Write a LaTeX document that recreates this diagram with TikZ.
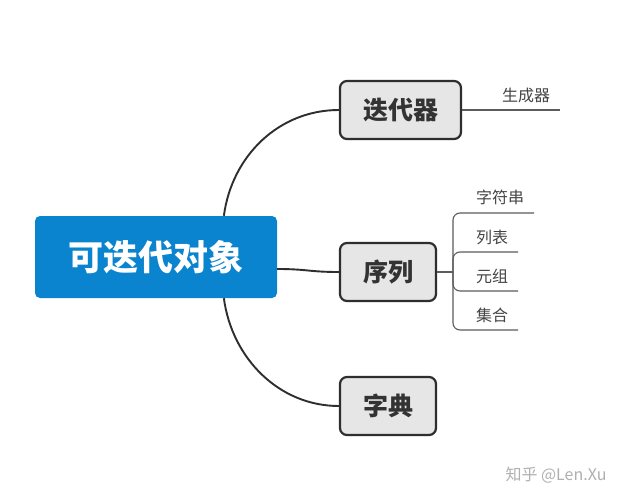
\documentclass[tikz,border=0pt]{standalone}
\usepackage{fontspec}
\newfontfamily\cjk{Noto Sans CJK SC}
\usetikzlibrary{calc}
\definecolor{rootblue}{HTML}{0A84CE}
\definecolor{boxgray}{HTML}{E6E6E6}
\definecolor{boxborder}{HTML}{2E2E2E}
\definecolor{textdark}{HTML}{333333}
\definecolor{leaftext}{HTML}{444444}
\definecolor{wm}{HTML}{B0B0B0}
\begin{document}
\begin{tikzpicture}[x=1pt,y=-1pt,
  rootbox/.style={fill=rootblue, rounded corners=5pt, minimum width=242pt, minimum height=82pt,
    inner sep=0pt, text=white, font=\cjk\bfseries\fontsize{35}{40}\selectfont},
  subbox/.style={draw=boxborder, line width=2.2pt, fill=boxgray, rounded corners=7pt,
    minimum height=58pt, inner sep=0pt, text=textdark, font=\cjk\bfseries\fontsize{25}{30}\selectfont},
  leaf/.style={inner sep=0pt, text=leaftext, font=\cjk\fontsize{16}{19}\selectfont},
  conn/.style={draw=boxborder, line width=1.9pt},
  leafline/.style={draw=textdark!80, line width=1.1pt}]
\useasboundingbox (0,0) rectangle (632,500);
\fill[white] (0,0) rectangle (632,500);

\node[rootbox] (root) at (156,257) {可迭代对象};
\node[subbox, minimum width=121pt] (it) at (400.5,110) {迭代器};
\node[subbox, minimum width=96pt] (seq) at (388,272) {序列};
\node[subbox, minimum width=96pt] (dict) at (388,406) {字典};

\draw[conn] ($(root.north west)!0.78!(root.north east)$) .. controls +(8,-60) and +(-60,0) .. (it.west);
\draw[conn] ($(root.south west)!0.78!(root.south east)$) .. controls +(8,60) and +(-60,0) .. (dict.west);
\draw[conn] ($(root.east)+(0,12)$) .. controls +(30,0) and +(-30,0) .. (seq.west);

% iterator child
\node[leaf] (gen) at (526,95) {生成器};
\coordinate (genend) at (560,110);
\draw[leafline] (it.east) -- (genend);

% sequence children
\coordinate (sj) at (453,272);
\draw[leafline] (seq.east) -- (sj);
\node[leaf] (str) at (500,197) {字符串};
\node[leaf] (lst) at (492,237) {列表};
\node[leaf] (tup) at (492,276) {元组};
\node[leaf] (set) at (492,315) {集合};
\coordinate (e1) at (534,213);
\coordinate (e2) at (518,252);
\coordinate (e3) at (518,291);
\coordinate (e4) at (518,330);
\draw[leafline, rounded corners=7pt] (sj) |- (e1);
\draw[leafline, rounded corners=7pt] (sj) |- (e2);
\draw[leafline, rounded corners=7pt] (sj) |- (e3);
\draw[leafline, rounded corners=7pt] (sj) |- (e4);

\node[inner sep=0pt, text=wm, font=\cjk\fontsize{16}{19}\selectfont] (mark) at (556,475) {知乎 @Len.Xu};
\end{tikzpicture}
\end{document}
